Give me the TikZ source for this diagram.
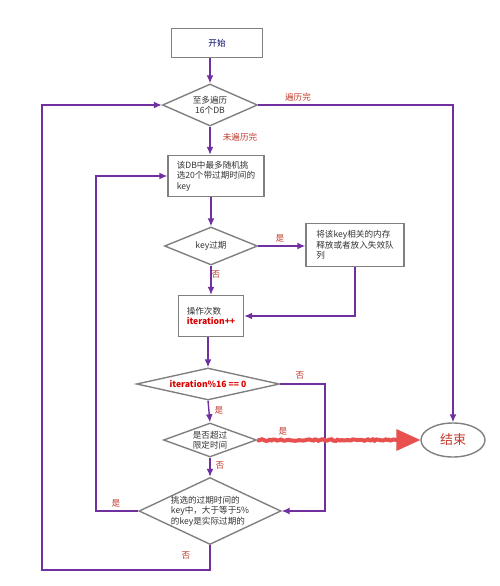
\documentclass[tikz,border=0pt]{standalone}
\usepackage{fontspec}
\setmainfont{Noto Sans CJK SC}
\usetikzlibrary{arrows.meta,shapes.geometric,decorations.pathmorphing,calc}
\definecolor{flowcol}{HTML}{7030A0}
\definecolor{edgecol}{HTML}{808080}
\definecolor{notecol}{HTML}{C0392B}
\definecolor{hotcol}{HTML}{E8504F}
\definecolor{textcol}{HTML}{333333}

\begin{document}
\begin{tikzpicture}[x=1pt, y=-1pt,
  proc/.style={draw=edgecol, line width=1.4pt, font=\fontsize{8.6}{10.5}\selectfont,
    text=textcol, align=left, inner sep=2pt},
  cond/.style={diamond, draw=edgecol, line width=1.4pt, inner sep=0pt},
  ctext/.style={font=\fontsize{8.6}{10.5}\selectfont, text=textcol, align=center},
  arr/.style={draw=flowcol, line width=1.4pt, -{Latex[length=8pt,width=7pt]}},
  lbl/.style={font=\fontsize{8.6}{10.5}\selectfont, text=notecol},
  wave/.style={draw=hotcol, line width=4pt,
    decorate, decoration={random steps, segment length=2pt, amplitude=0.9pt}}
]
  \useasboundingbox (0,0) rectangle (500,586);
  \node[proc, minimum width=91pt, minimum height=29pt, align=center,
    text=blue!40!black] (start) at (217,43) {开始};
  \node[cond, minimum width=95pt, minimum height=42pt,
    label={[ctext]center:至多遍历\\16个DB}] (db) at (210,105) {};
  \node[proc, minimum width=96pt, minimum height=41pt] (pick) at (216,176)
    {该DB中最多随机挑\\选20个带过期时间的\\key};
  \node[cond, minimum width=93pt, minimum height=38pt,
    label={[ctext]center:key过期}] (expired) at (211,246) {};
  \node[proc, minimum width=98pt, minimum height=43pt] (free) at (355,245)
    {将该key相关的内存\\释放或者放入失效队\\列};
  \node[proc, minimum width=65pt, minimum height=41pt] (count) at (211,316)
    {操作次数\\\textcolor{red!85!black}{\textbf{iteration++}}};
  \node[cond, minimum width=143pt, minimum height=32pt,
    label={[ctext, text=red!85!black, font=\fontsize{8.6}{10.5}\selectfont\bfseries]center:iteration\%16 == 0}]
    (every16) at (208,384) {};
  \node[cond, minimum width=93pt, minimum height=34pt,
    label={[ctext]center:是否超过\\限定时间}] (timeout) at (210,440) {};
  \node[cond, minimum width=142pt, minimum height=67pt,
    label={[ctext, align=left]center:挑选的过期时间的\\key中，大于等于5\%\\的key是实际过期的}]
    (ratio) at (210,511) {};
  \node[ellipse, draw=edgecol, line width=1.4pt, minimum width=64pt, minimum height=34pt,
    text=notecol, font=\fontsize{13}{15}\selectfont] (finish) at (453,440) {结束};

  \coordinate (outer) at (42,570);
  \coordinate (inner) at (96,511);
  \coordinate (side) at (325,511);

  % main line
  \draw[arr] (db.north |- start.south) -- (db.north);
  \draw[arr] (db.south) -- (db.south |- pick.north);
  \draw[arr] (expired.north |- pick.south) -- (expired.north);
  \draw[arr] (expired.east) -- (expired.east -| free.west);
  \draw[arr] (free.south) |- (count.east);
  \draw[arr] (expired.south) -- (expired.south |- count.north);
  \draw[arr] (every16.north |- count.south) -- (every16.north);
  \draw[arr] (every16.south) -- (timeout.north);
  \draw[arr] (timeout.south) -- (ratio.north);
  \draw[arr] (every16.east) -| (side) -- (ratio.east);
  \draw[arr] (ratio.west) -- (inner) |- (pick.west);
  \draw[arr] (ratio.south) |- (outer) |- (db.west);
  \draw[arr] (db.east) -| (finish.north);
  \draw[wave] (timeout.east) -- ($(finish.west)+(-18,0)$);
  \fill[hotcol] ($(finish.west)+(-24,-11)$) -- (finish.west) -- ($(finish.west)+(-24,11)$) -- cycle;

  % labels
  \node[lbl] at (298,97) {遍历完};
  \node[lbl] at (240,137) {未遍历完};
  \node[lbl] at (280,238) {是};
  \node[lbl] at (216,274) {否};
  \node[lbl] at (300,375) {否};
  \node[lbl] at (219,410) {是};
  \node[lbl] at (283,431) {是};
  \node[lbl] at (220,465) {否};
  \node[lbl] at (116,503) {是};
  \node[lbl] at (186,555) {否};
\end{tikzpicture}
\end{document}
